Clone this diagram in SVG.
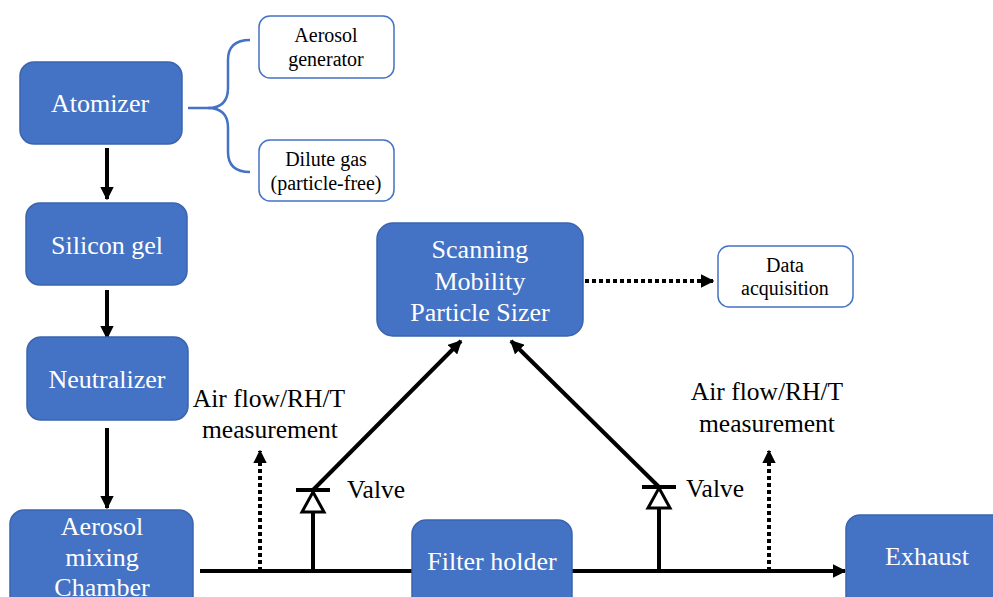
<svg xmlns="http://www.w3.org/2000/svg" width="993" height="597" viewBox="0 0 993 597" font-family="'Liberation Serif', 'Times New Roman', serif">
<style>
.bx{fill:#4472C4;stroke:#3A64AE;stroke-width:1.5}
.ob{fill:#fff;stroke:#4472C4;stroke-width:1.5}
text{font-family:'Liberation Serif','Times New Roman',serif}
.wt{fill:#fff;font-size:26px;text-anchor:middle}
.bt{fill:#000;font-size:25.5px;text-anchor:middle}
.st{fill:#000;font-size:20px;text-anchor:middle}
.ln{stroke:#000;stroke-width:4;fill:none}
.dt{stroke:#000;stroke-width:4;fill:none;stroke-dasharray:4 3}
</style>
<defs>
<marker id="ah" viewBox="0 0 10 10" refX="9" refY="5" markerWidth="3.4" markerHeight="3.4" orient="auto" markerUnits="strokeWidth">
<path d="M0,0L10,5L0,10z" fill="#000"/>
</marker>
</defs>
<g id="connectors">
<path d="M188,108 H208 Q228,108 228,88 V60 Q228,40 250,40" stroke="#4472C4" stroke-width="2.5" fill="none"/>
<path d="M208,108 Q228,108 228,128 V152 Q228,172 250,172" stroke="#4472C4" stroke-width="2.5" fill="none"/>
<line class="ln" x1="107" y1="148" x2="107" y2="199" marker-end="url(#ah)"/>
<line class="ln" x1="107" y1="290" x2="107" y2="338" marker-end="url(#ah)"/>
<line class="ln" x1="107" y1="428" x2="107" y2="508" marker-end="url(#ah)"/>
<line class="ln" x1="200" y1="571" x2="412" y2="571"/>
<line class="ln" x1="572" y1="571" x2="845" y2="571" marker-end="url(#ah)"/>
<line class="dt" x1="260" y1="571" x2="260" y2="451" marker-end="url(#ah)"/>
<line class="dt" x1="769" y1="571" x2="769" y2="451" marker-end="url(#ah)"/>
<line class="dt" x1="585" y1="281" x2="713" y2="281" marker-end="url(#ah)"/>
<line class="ln" x1="313" y1="571" x2="313" y2="512"/>
<path d="M313,492 L324,512 L302,512 Z" stroke="#000" stroke-width="3" fill="#fff"/>
<line class="ln" x1="296" y1="490" x2="330" y2="490"/>
<line class="ln" x1="313" y1="490" x2="461" y2="341" marker-end="url(#ah)"/>
<line class="ln" x1="659" y1="571" x2="659" y2="508"/>
<path d="M659,488 L670,508 L648,508 Z" stroke="#000" stroke-width="3" fill="#fff"/>
<line class="ln" x1="642" y1="487" x2="676" y2="487"/>
<line class="ln" x1="659" y1="487" x2="511" y2="341" marker-end="url(#ah)"/>
<text class="bt" x="376" y="498">Valve</text>
<text class="bt" x="715" y="497">Valve</text>
<text class="bt" x="269" y="407">Air flow/RH/T</text>
<text class="bt" x="270" y="438">measurement</text>
<text class="bt" x="767" y="400">Air flow/RH/T</text>
<text class="bt" x="767" y="432">measurement</text>
</g>
<g id="atomizer"><rect class="bx" x="20" y="62" width="162" height="82" rx="14"/><text class="wt" x="100" y="112">Atomizer</text></g>
<g id="aerosol-generator"><rect class="ob" x="259" y="16" width="135" height="62" rx="11"/><text class="st" x="326" y="42">Aerosol</text><text class="st" x="326" y="66">generator</text></g>
<g id="dilute-gas"><rect class="ob" x="259" y="140" width="135" height="61" rx="11"/><text class="st" x="326" y="166">Dilute gas</text><text class="st" x="326" y="190">(particle-free)</text></g>
<g id="silicon-gel"><rect class="bx" x="26" y="203" width="161" height="82" rx="14"/><text class="wt" x="107" y="254">Silicon gel</text></g>
<g id="neutralizer"><rect class="bx" x="27" y="337" width="161" height="83" rx="14"/><text class="wt" x="107" y="388">Neutralizer</text></g>
<g id="mixing-chamber"><rect class="bx" x="10" y="510" width="183" height="110" rx="14"/><text class="wt" x="102" y="535">Aerosol</text><text class="wt" x="102" y="566">mixing</text><text class="wt" x="102" y="596">Chamber</text></g>
<g id="smps"><rect class="bx" x="377" y="223" width="206" height="113" rx="16"/><text class="wt" x="480" y="258">Scanning</text><text class="wt" x="480" y="290">Mobility</text><text class="wt" x="480" y="321">Particle Sizer</text></g>
<g id="data-acquisition"><rect class="ob" x="718" y="246" width="135" height="61" rx="11"/><text class="st" x="785" y="272">Data</text><text class="st" x="785" y="295">acquisition</text></g>
<g id="filter-holder"><rect class="bx" x="412" y="520" width="160" height="100" rx="14"/><text class="wt" x="492" y="570">Filter holder</text></g>
<g id="exhaust"><rect class="bx" x="846" y="515" width="160" height="100" rx="14"/><text class="wt" x="927" y="565">Exhaust</text></g>
</svg>
